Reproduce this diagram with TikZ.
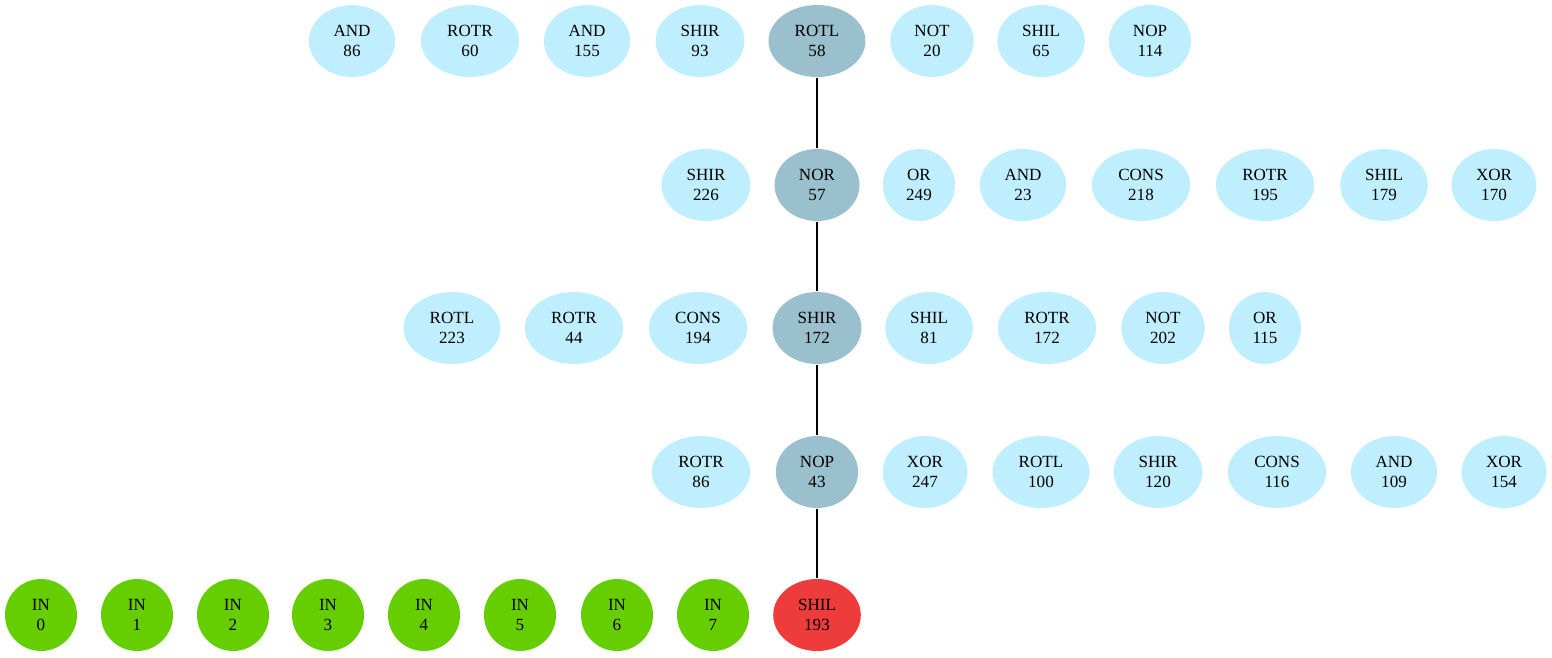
\documentclass[tikz,border=0pt]{standalone}
\usepackage{fontspec}
\setmainfont{Liberation Serif}
\usetikzlibrary{arrows,shapes,backgrounds}
\definecolor{opblue}{HTML}{BFEFFF}
\definecolor{pathblue}{HTML}{9AC0CD}
\definecolor{ingreen}{HTML}{66CD00}
\definecolor{outred}{HTML}{EE3B3B}

\begin{document}
\begin{tikzpicture}[x=0.75pt,y=-0.75pt,line width=0.8pt,
                    main node/.style={ellipse,fill=opblue,align=center,inner xsep=9pt,inner ysep=0pt,
                                      minimum height=54pt,minimum width=54pt,font=\fontsize{12.8}{15}\selectfont},
                    path node/.style={main node,fill=pathblue},
                    in node/.style={main node,circle,fill=ingreen,minimum size=54pt},
                    out node/.style={main node,fill=outred}]
    \useasboundingbox (0,0) rectangle (1552,657);

          % row 1
          \node[main node] (a1) at (352,41) {AND\\86};
          \node[main node] (a2) at (470,41) {ROTR\\60};
          \node[main node] (a3) at (587,41) {AND\\155};
          \node[main node] (a4) at (700,41) {SHIR\\93};
          \node[path node] (a5) at (817,41) {ROTL\\58};
          \node[main node] (a6) at (932,41) {NOT\\20};
          \node[main node] (a7) at (1041,41) {SHIL\\65};
          \node[main node] (a8) at (1150,41) {NOP\\114};

          % row 2
          \node[main node] (b1) at (706,185) {SHIR\\226};
          \node[path node] (b2) at (817,185) {NOR\\57};
          \node[main node] (b3) at (919,185) {OR\\249};
          \node[main node] (b4) at (1023,185) {AND\\23};
          \node[main node] (b5) at (1141,185) {CONS\\218};
          \node[main node] (b6) at (1265,185) {ROTR\\195};
          \node[main node] (b7) at (1384,185) {SHIL\\179};
          \node[main node] (b8) at (1494,185) {XOR\\170};

          % row 3
          \node[main node] (c1) at (452,328) {ROTL\\223};
          \node[main node] (c2) at (574,328) {ROTR\\44};
          \node[main node] (c3) at (698,328) {CONS\\194};
          \node[path node] (c4) at (817,328) {SHIR\\172};
          \node[main node] (c5) at (929,328) {SHIL\\81};
          \node[main node] (c6) at (1047,328) {ROTR\\172};
          \node[main node] (c7) at (1163,328) {NOT\\202};
          \node[main node] (c8) at (1265,328) {OR\\115};

          % row 4
          \node[main node] (d1) at (701,472) {ROTR\\86};
          \node[path node] (d2) at (817,472) {NOP\\43};
          \node[main node] (d3) at (925,472) {XOR\\247};
          \node[main node] (d4) at (1041,472) {ROTL\\100};
          \node[main node] (d5) at (1158,472) {SHIR\\120};
          \node[main node] (d6) at (1277,472) {CONS\\116};
          \node[main node] (d7) at (1394,472) {AND\\109};
          \node[main node] (d8) at (1504,472) {XOR\\154};

          % inputs and output
          \node[in node] (i0) at (41,615) {IN\\0};
          \node[in node] (i1) at (137,615) {IN\\1};
          \node[in node] (i2) at (233,615) {IN\\2};
          \node[in node] (i3) at (328,615) {IN\\3};
          \node[in node] (i4) at (424,615) {IN\\4};
          \node[in node] (i5) at (520,615) {IN\\5};
          \node[in node] (i6) at (617,615) {IN\\6};
          \node[in node] (i7) at (713,615) {IN\\7};
          \node[out node] (o) at (817,615) {SHIL\\193};

          \path
           (a5) edge (b2)
           (b2) edge (c4)
           (c4) edge (d2)
           (d2) edge (o);
       \end{tikzpicture}
\end{document}
